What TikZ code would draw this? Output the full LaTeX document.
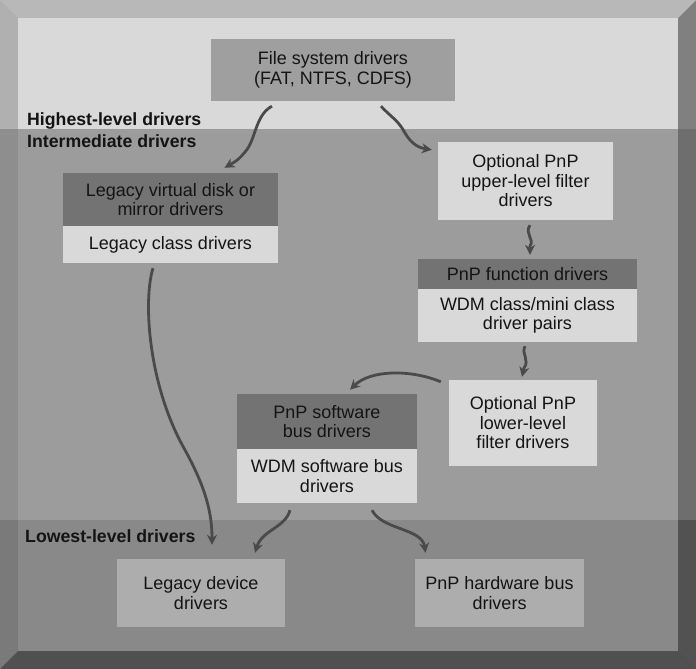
\documentclass[tikz,border=0pt]{standalone}
\usepackage{fontspec}
\setmainfont{Liberation Sans}
\usetikzlibrary{arrows.meta}
\definecolor{bandtop}{HTML}{D9D9D9}
\definecolor{bandmid}{HTML}{9C9C9C}
\definecolor{bandlow}{HTML}{898989}
\definecolor{boxlight}{HTML}{D9D9D9}
\definecolor{boxdark}{HTML}{737373}
\definecolor{boxmid}{HTML}{9F9F9F}
\definecolor{boxlow}{HTML}{ADADAD}
\definecolor{arrowc}{HTML}{4A4A4A}
\tikzset{
  box/.style={inner sep=0pt, align=center, font=\fontsize{18}{19.5}\selectfont, text=black!92},
  conn/.style={draw=arrowc, line width=2.8pt, -{Stealth[length=10pt,width=10pt]}},
  level/.style={anchor=base west, inner sep=0pt, font=\fontsize{17.7}{20}\selectfont\bfseries, text=black!92}
}
\begin{document}
\begin{tikzpicture}[x=1pt,y=-1pt]
\useasboundingbox (0,0) rectangle (696,669);
% side bevels
\fill[fill={rgb,255:red,176;green,176;blue,176}] (0,0) rectangle (18,129);
\fill[fill={rgb,255:red,142;green,142;blue,142}] (0,129) rectangle (18,520);
\fill[fill={rgb,255:red,122;green,122;blue,122}] (0,520) rectangle (18,669);
\fill[fill={rgb,255:red,128;green,128;blue,128}] (678,0) rectangle (696,129);
\fill[fill={rgb,255:red,110;green,110;blue,110}] (678,129) rectangle (696,520);
\fill[fill={rgb,255:red,82;green,82;blue,82}] (678,520) rectangle (696,669);
% top & bottom bevels
\fill[fill={rgb,255:red,184;green,184;blue,184}] (0,0) -- (696,0) -- (678,18) -- (18,18) -- cycle;
\fill[fill={rgb,255:red,80;green,80;blue,80}] (0,669) -- (696,669) -- (678,651) -- (18,651) -- cycle;
% bands
\fill[bandtop] (18,18) rectangle (678,129);
\fill[bandmid] (18,129) rectangle (678,520);
\fill[bandlow] (18,520) rectangle (678,651);

% level labels
\node[level] (lhigh) at (27,125) {Highest-level drivers};
\node[level] (lint) at (27,147) {Intermediate drivers};
\node[level] (llow) at (25,542) {Lowest-level drivers};

% boxes
\node[box, fill=boxmid, minimum width=244pt, minimum height=62pt] (fs) at (333,70) {File system drivers\\(FAT, NTFS, CDFS)};
\node[box, fill=boxdark, minimum width=215pt, minimum height=53pt] (lvd) at (170.5,199.5) {Legacy virtual disk or\\mirror drivers};
\node[box, fill=boxlight, minimum width=215pt, minimum height=37pt] (lcd) at (170.5,244.5) {Legacy class drivers};
\node[box, fill=boxlight, minimum width=175pt, minimum height=78pt] (upf) at (525.5,181) {Optional PnP\\upper-level filter\\drivers};
\node[box, fill=boxdark, minimum width=219pt, minimum height=30pt] (pfd) at (527.5,274) {PnP function drivers};
\node[box, fill=boxlight, minimum width=219pt, minimum height=53pt] (wdm) at (527.5,315.5) {WDM class/mini class\\driver pairs};
\node[box, fill=boxlight, minimum width=148pt, minimum height=86pt] (lof) at (523,423) {Optional PnP\\lower-level\\filter drivers};
\node[box, fill=boxdark, minimum width=180pt, minimum height=55pt] (psb) at (327,421.5) {PnP software\\bus drivers};
\node[box, fill=boxlight, minimum width=180pt, minimum height=54pt] (wsb) at (327,476) {WDM software bus\\drivers};
\node[box, fill=boxlow, minimum width=168pt, minimum height=68pt] (ldd) at (201,593) {Legacy device\\drivers};
\node[box, fill=boxlow, minimum width=169pt, minimum height=68pt] (phb) at (499.5,593) {PnP hardware bus\\drivers};

% connectors
\draw[conn] ([xshift=-61pt,yshift=-5pt]fs.south) .. controls (255,115) and (256,140) .. (245,152) .. controls (238,160) .. ([xshift=54pt,yshift=5pt]lvd.north);
\draw[conn] ([xshift=48pt,yshift=-5pt]fs.south) .. controls (392,118) and (398,120) .. (405,133) .. controls (412,145) and (420,148) .. ([xshift=-6pt,yshift=-8pt]upf.north west);
\draw[conn] ([xshift=4.5pt,yshift=-5pt]upf.south) .. controls (524,234) and (535,239) .. (530,246) -- ([xshift=2.5pt,yshift=4pt]pfd.north);
\draw[conn] ([xshift=-2.5pt,yshift=-4pt]wdm.south) .. controls (521,354) and (530,360) .. (524,368) -- ([xshift=-1pt,yshift=3pt]lof.north);
\draw[conn] ([xshift=-8pt,yshift=-2pt]lof.north west) .. controls (410,369) and (370,370) .. ([xshift=23pt,yshift=4pt]psb.north);
\draw[conn] ([xshift=-17.5pt,yshift=-5pt]lcd.south) .. controls (143,300) and (148,385) .. (185,450) .. controls (207,490) and (212,515) .. ([xshift=11pt,yshift=14pt]ldd.north);
\draw[conn] ([xshift=-37pt,yshift=-7pt]wsb.south) .. controls (285,528) and (262,530) .. ([xshift=54pt,yshift=6pt]ldd.north);
\draw[conn] ([xshift=45pt,yshift=-7pt]wsb.south) .. controls (382,530) and (422,528) .. ([xshift=-74pt,yshift=6pt]phb.north);
\end{tikzpicture}
\end{document}
